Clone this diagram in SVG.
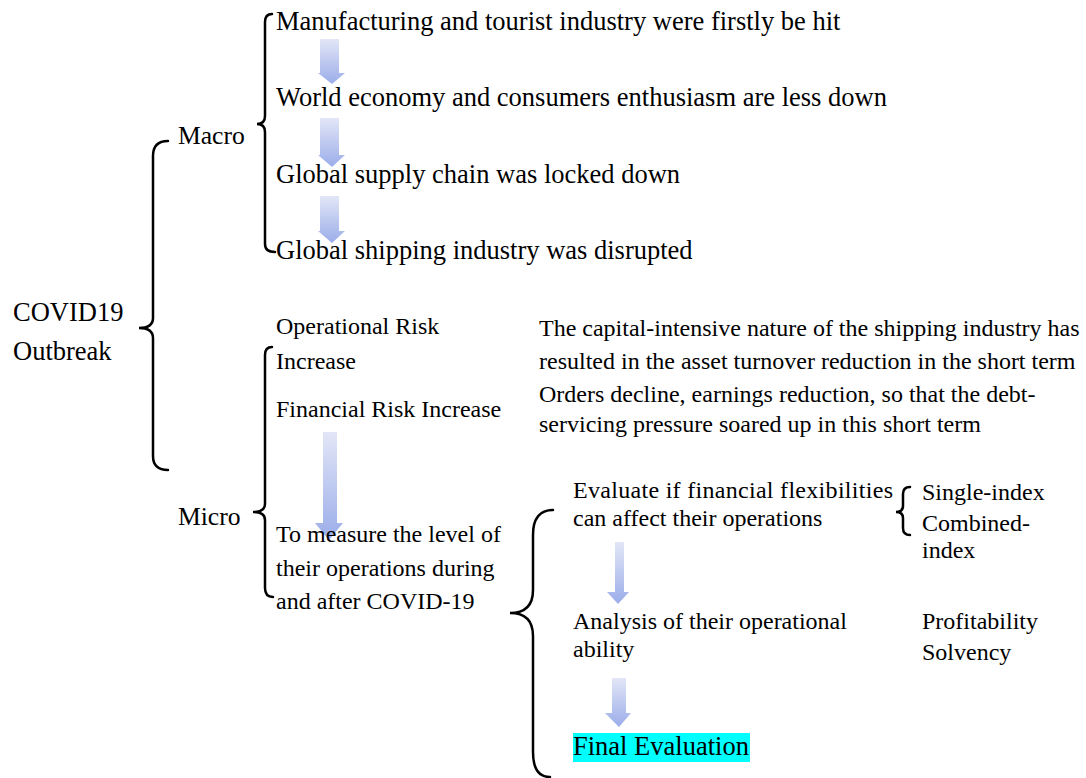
<svg xmlns="http://www.w3.org/2000/svg" width="1086" height="778" viewBox="0 0 1086 778" font-family="'Liberation Serif', 'DejaVu Serif', serif">
<defs>
<linearGradient id="ag" x1="0" y1="0" x2="0" y2="1">
<stop offset="0" stop-color="#e2e6f6"/>
<stop offset="1" stop-color="#9badea"/>
</linearGradient>
<style>
text{font-family:'Liberation Serif','DejaVu Serif',serif;font-size:24px;fill:#000}
.lg{font-size:26.5px}
.md{font-size:25.6px}
.br{fill:none;stroke:#000;stroke-width:2.5;stroke-linecap:round}
.ar{fill:url(#ag)}
</style>
</defs>
<rect width="1086" height="778" fill="#fff"/>
<g id="connectors">
<path class="br" d="M168,141 Q153,141 153,156 L153,318 Q153,328 139,328 Q153,328 153,338 L153,456 Q153,470 168,470"/>
<path class="br" d="M272,14 Q265,14 265,22 L265,116 Q265,124 257,124 Q265,124 265,132 L265,244 Q265,252 275,252"/>
<path class="br" d="M272,347 Q265,347 265,355 L265,504 Q265,512 253,512 Q265,512 265,520 L265,588 Q265,597 273,597"/>
<path class="br" d="M553,510 Q533,510 533,535 L533,590 Q533,613 510,613 Q533,613 533,636 L533,752 Q533,777 550,777"/>
<path class="br" d="M910,487 Q903,487 903,494 L903,506 Q903,512 896,512 Q903,512 903,518 L903,528 Q903,535 910,535"/>
<path class="ar" d="M320,39 H339 V73 H345 L332,84 L318,73 H320 Z"/>
<path class="ar" d="M320,118 H339 V155 H345 L332,167 L318,155 H320 Z"/>
<path class="ar" d="M320,196 H339 V231 H345 L332,243 L318,231 H320 Z"/>
<path class="ar" d="M323,432 H337 V523 H343 L329,540 L315,523 H323 Z"/>
<path class="ar" d="M615,542 H624 V592 H629 L618,604 L607,592 H615 Z"/>
<path class="ar" d="M612,678 H626 V713 H631 L619,727 L605,713 H612 Z"/>
</g>
<g id="covid"><text class="lg" x="13" y="321">COVID19</text><text class="lg" x="13" y="360">Outbreak</text></g>
<g id="macro"><text class="md" x="178" y="144">Macro</text></g>
<g id="m1"><text class="lg" x="276" y="30">Manufacturing and tourist industry were firstly be hit</text></g>
<g id="m2"><text class="lg" x="276" y="106">World economy and consumers enthusiasm are less down</text></g>
<g id="m3"><text class="lg" x="276" y="183">Global supply chain was locked down</text></g>
<g id="m4"><text class="lg" x="276" y="259">Global shipping industry was disrupted</text></g>
<g id="micro"><text class="md" x="178" y="525">Micro</text></g>
<g id="op"><text x="276" y="334">Operational Risk</text><text x="276" y="369">Increase</text></g>
<g id="fin"><text x="276" y="417">Financial Risk Increase</text></g>
<g id="opdesc"><text x="539" y="336">The capital-intensive nature of the shipping industry has</text><text x="539" y="369">resulted in the asset turnover reduction in the short term</text></g>
<g id="findesc"><text x="539" y="402">Orders decline, earnings reduction, so that the debt-</text><text x="539" y="432">servicing pressure soared up in this short term</text></g>
<g id="measure"><text x="276" y="542">To measure the level of</text><text x="276" y="576">their operations during</text><text x="276" y="609">and after COVID-19</text></g>
<g id="evaluate"><text x="573" y="498" textLength="320" lengthAdjust="spacing">Evaluate if financial flexibilities</text><text x="573" y="526">can affect their operations</text></g>
<g id="index"><text x="922" y="500">Single-index</text><text x="922" y="531">Combined-</text><text x="922" y="558">index</text></g>
<g id="analysis"><text x="573" y="629">Analysis of their operational</text><text x="573" y="657">ability</text></g>
<g id="profit"><text x="922" y="629">Profitability</text><text x="922" y="660">Solvency</text></g>
<g id="final"><rect x="573" y="733" width="177" height="29" fill="#00ffff"/><text class="lg" x="573" y="755">Final Evaluation</text></g>
</svg>
